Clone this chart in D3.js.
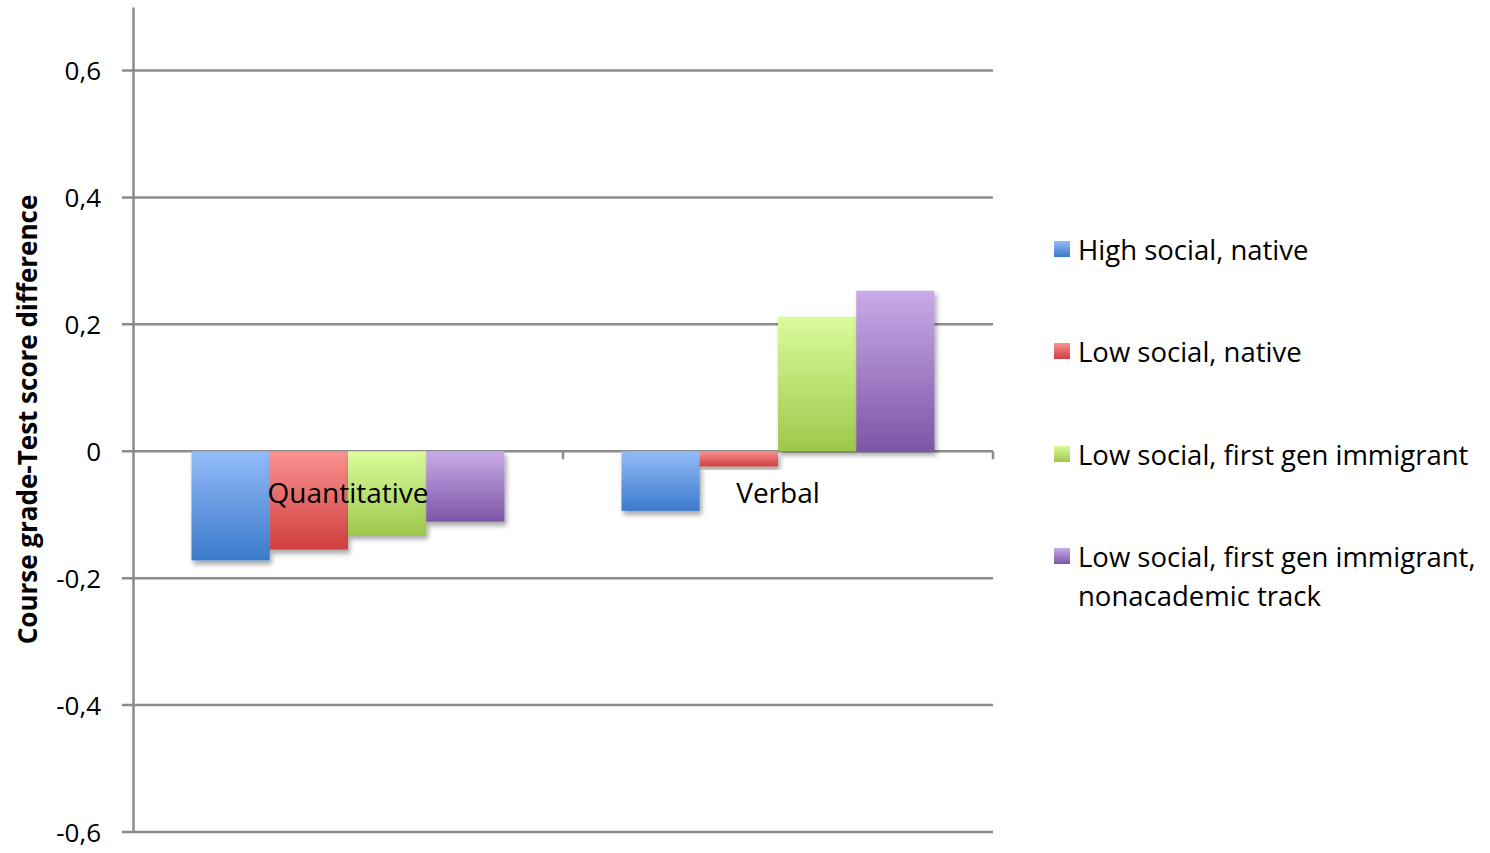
<!DOCTYPE html>
<html>
<head>
<meta charset="utf-8">
<script src="https://cdn.jsdelivr.net/npm/d3@7"></script>
<style>
  body { margin: 0; background: #fff; }
  svg text { font-family: "Open Sans", "Noto Sans", sans-serif; fill: #000; }
</style>
</head>
<body>
<div id="chart"></div>
<script>
const categories = ["Quantitative", "Verbal"];
const seriesNames = [
  "High social, native",
  "Low social, native",
  "Low social, first gen immigrant",
  "Low social, first gen immigrant, nonacademic track"
];
const quantitativeValues = [-0.172, -0.155, -0.132, -0.111];
const verbalValues = [-0.094, -0.024, 0.212, 0.253];
const yTicks = [-0.6, -0.4, -0.2, 0, 0.2, 0.4, 0.6];
const colorsTop = ["#93bcf8", "#fa9292", "#dafc9c", "#c8abe8"];
const colorsBottom = ["#3b7acb", "#cf3f3e", "#9ec84c", "#7d55a6"];

const width = 1490, height = 853;
const margin = { top: 7, right: 497, bottom: 21, left: 133 };
const innerW = width - margin.left - margin.right;
const innerH = height - margin.top - margin.bottom;

const rows = categories.map((c, i) => ({
  category: c,
  values: (i === 0 ? quantitativeValues : verbalValues)
}));

const svg = d3.select("#chart").append("svg")
  .attr("width", width)
  .attr("height", height);

const defs = svg.append("defs");
seriesNames.forEach((s, i) => {
  const g = defs.append("linearGradient")
    .attr("id", "grad" + i)
    .attr("x1", 0).attr("y1", 0).attr("x2", 0).attr("y2", 1);
  g.append("stop").attr("offset", "0%").attr("stop-color", colorsTop[i]);
  g.append("stop").attr("offset", "100%").attr("stop-color", colorsBottom[i]);
});
const shadow = defs.append("filter").attr("id", "shadow")
  .attr("x", "-20%").attr("y", "-20%").attr("width", "140%").attr("height", "140%");
shadow.append("feDropShadow")
  .attr("dx", 2).attr("dy", 4).attr("stdDeviation", 2.5)
  .attr("flood-color", "#000").attr("flood-opacity", 0.35);

const g = svg.append("g").attr("transform", `translate(${margin.left},${margin.top})`);

const y = d3.scaleLinear().domain([-0.6, 0.7]).range([innerH, 0]);
const x0 = d3.scaleBand().domain(categories).range([0, innerW])
  .paddingInner(0.272).paddingOuter(0.136);
const x1 = d3.scaleBand().domain(d3.range(seriesNames.length)).range([0, x0.bandwidth()]);

const fmt = v => v === 0 ? "0" : d3.format(".1f")(v).replace(".", ",").replace("−", "-");

// gridlines
g.append("g")
  .selectAll("line")
  .data(yTicks)
  .join("line")
  .attr("x1", -11).attr("x2", innerW)
  .attr("y1", d => y(d)).attr("y2", d => y(d))
  .attr("stroke", "#8c8c8c").attr("stroke-width", 2.5);

// y axis
const yAxis = g.append("g")
  .call(d3.axisLeft(y).tickValues(yTicks).tickFormat(fmt).tickSize(0).tickPadding(32));
yAxis.select(".domain").attr("stroke", "#8c8c8c").attr("stroke-width", 2.5);
yAxis.selectAll("text").attr("font-size", 26).attr("dy", "0.35em");

// x axis ticks along zero line
const xTickPos = [x0.step(), 2 * x0.step()];
g.append("g")
  .selectAll("line")
  .data(xTickPos)
  .join("line")
  .attr("x1", d => d).attr("x2", d => d)
  .attr("y1", y(0)).attr("y2", y(0) + 8)
  .attr("stroke", "#8c8c8c").attr("stroke-width", 2.5);

// bars
const groups = g.append("g").selectAll("g")
  .data(rows)
  .join("g")
  .attr("transform", d => `translate(${x0(d.category)},0)`);

groups.selectAll("rect")
  .data(d => d.values.map((v, i) => ({ v, i })))
  .join("rect")
  .attr("x", d => x1(d.i))
  .attr("width", x1.bandwidth())
  .attr("y", d => y(Math.max(0, d.v)))
  .attr("height", d => Math.abs(y(d.v) - y(0)))
  .attr("fill", d => `url(#grad${d.i})`)
  .attr("filter", "url(#shadow)");

// category labels
g.append("g").selectAll("text")
  .data(categories)
  .join("text")
  .attr("x", d => x0(d) + x0.bandwidth() / 2)
  .attr("y", y(0) + 52)
  .attr("text-anchor", "middle")
  .attr("font-size", 28)
  .text(d => d);

// y axis title
svg.append("text")
  .attr("transform", `translate(37,${margin.top + y(0.05)}) rotate(-90)`)
  .attr("text-anchor", "middle")
  .attr("font-size", 26)
  .attr("font-weight", "bold")
  .text("Course grade-Test score difference");

// legend
const legendY = [250, 352, 455, 557];
const legend = svg.append("g").attr("transform", "translate(1054,0)");
seriesNames.forEach((s, i) => {
  const item = legend.append("g").attr("transform", `translate(0,${legendY[i]})`);
  item.append("rect")
    .attr("x", 0).attr("y", -9).attr("width", 16).attr("height", 16)
    .attr("fill", `url(#grad${i})`);
  const lines = i === 3 ? ["Low social, first gen immigrant,", "nonacademic track"] : [s];
  const t = item.append("text").attr("x", 24).attr("y", 0).attr("font-size", 27.5);
  lines.forEach((l, k) => {
    t.append("tspan").attr("x", 24).attr("dy", k === 0 ? "0.35em" : 39).text(l);
  });
});
</script>
</body>
</html>
